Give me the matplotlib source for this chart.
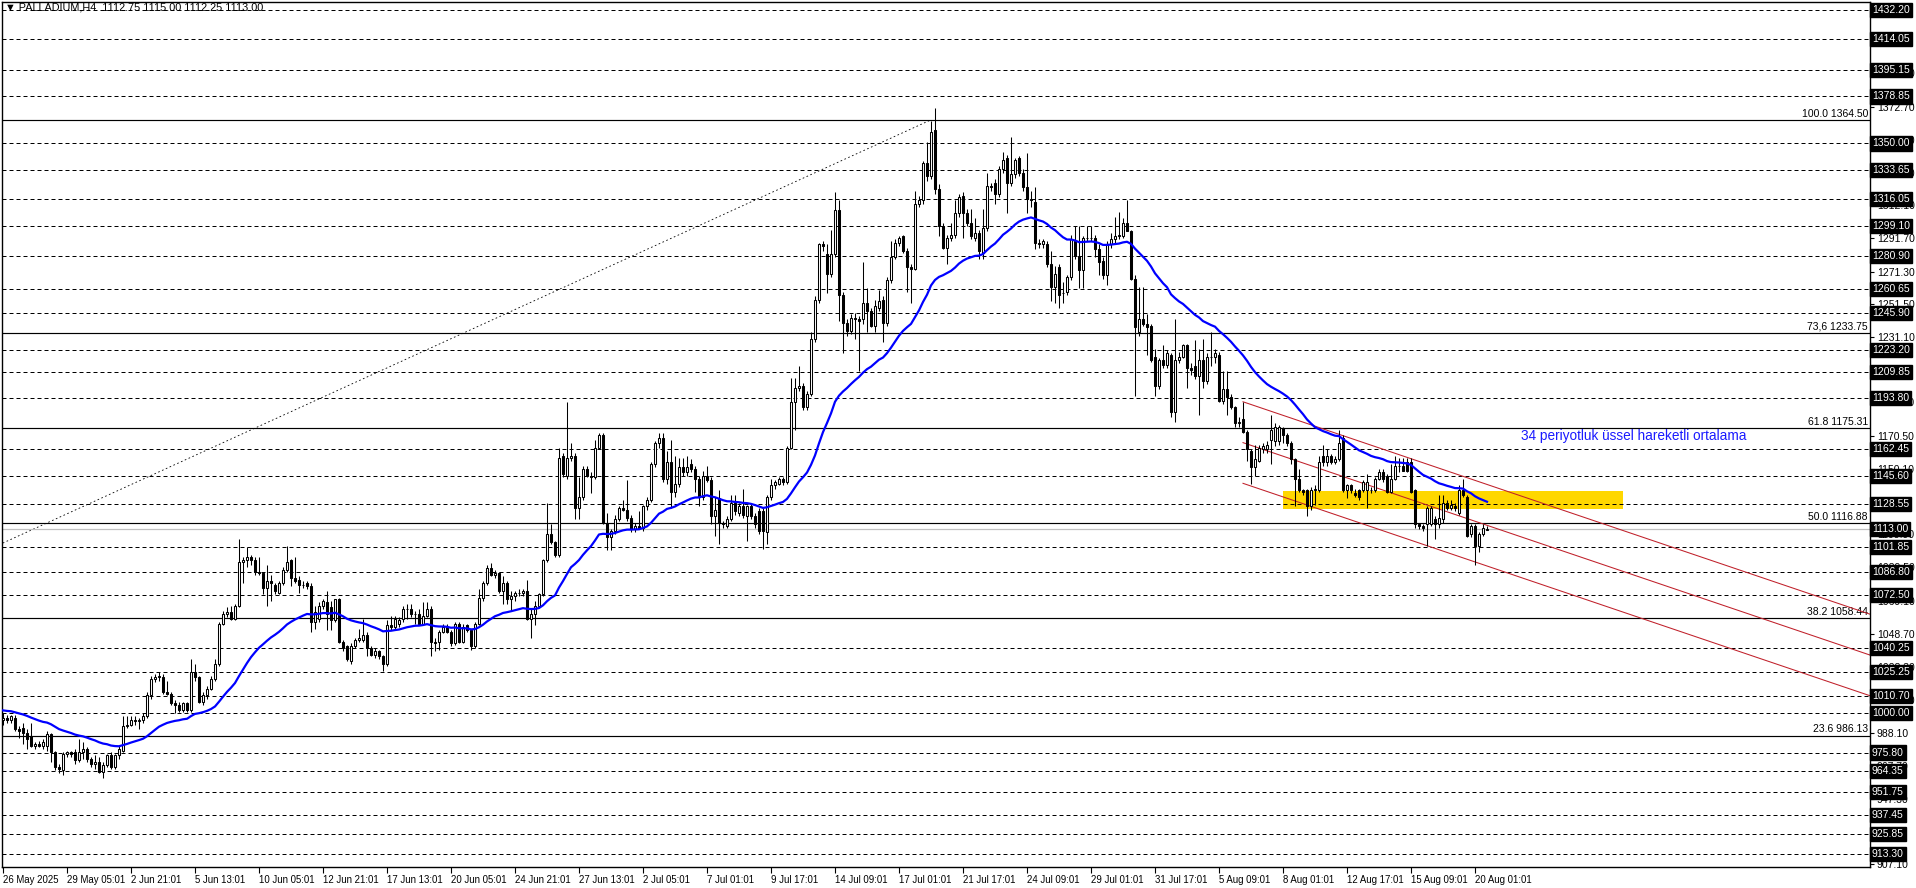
import numpy as np
import matplotlib
matplotlib.use("Agg")
import matplotlib.pyplot as plt

plt.rcParams['font.family'] = ['Liberation Sans', 'DejaVu Sans']

# H4 candles (bar 0 = 26 May 13:01)
opens = [996, 997, 996, 997, 990, 991, 988, 986, 980, 981, 980, 980, 987, 976, 967, 965, 975, 976, 976, 971,
         976, 978, 972, 969, 970, 964, 968, 974, 967, 974, 977, 992, 993, 996, 995, 996, 998, 1011, 1021, 1022,
         1022, 1013, 1012, 1006, 1005, 1002, 1006, 1002, 1025, 1022, 1007, 1011, 1015, 1021, 1030, 1055, 1061, 1062, 1058, 1066,
         1093, 1094, 1096, 1094, 1087, 1086, 1077, 1081, 1079, 1074, 1080, 1088, 1094, 1083, 1082, 1079, 1080, 1078, 1056, 1058,
         1066, 1068, 1065, 1057, 1070, 1044, 1041, 1032, 1041, 1045, 1045, 1048, 1040, 1036, 1038, 1035, 1030, 1054, 1053, 1055,
         1058, 1064, 1064, 1061, 1061, 1055, 1060, 1064, 1044, 1044, 1050, 1053, 1050, 1043, 1055, 1044, 1054, 1051, 1041, 1055,
         1071, 1080, 1089, 1085, 1086, 1075, 1080, 1070, 1072, 1074, 1074, 1075, 1058, 1061, 1066, 1073, 1094, 1110, 1105, 1097,
         1158, 1146, 1157, 1158, 1126, 1133, 1150, 1146, 1145, 1163, 1171, 1117, 1108, 1112, 1119, 1126, 1125, 1120, 1113, 1115,
         1114, 1127, 1131, 1153, 1166, 1169, 1144, 1154, 1136, 1141, 1151, 1148, 1153, 1150, 1144, 1133, 1146, 1143, 1121, 1132,
         1117, 1115, 1119, 1129, 1123, 1127, 1121, 1127, 1121, 1124, 1124, 1111, 1133, 1140, 1141, 1144, 1142, 1163, 1191, 1200,
         1201, 1188, 1196, 1230, 1254, 1288, 1282, 1270, 1282, 1309, 1257, 1240, 1235, 1243, 1242, 1242, 1252, 1247, 1238, 1249,
         1254, 1240, 1266, 1280, 1289, 1293, 1284, 1274, 1273, 1313, 1315, 1338, 1330, 1358, 1322, 1299, 1286, 1292, 1294, 1307,
         1318, 1307, 1301, 1292, 1295, 1283, 1298, 1324, 1326, 1319, 1334, 1341, 1326, 1331, 1341, 1332, 1323, 1316, 1314, 1289,
         1288, 1288, 1276, 1262, 1274, 1258, 1259, 1268, 1290, 1281, 1272, 1292, 1292, 1292, 1285, 1278, 1269, 1288, 1291, 1293,
         1293, 1301, 1296, 1267, 1234, 1242, 1239, 1238, 1219, 1201, 1217, 1214, 1220, 1185, 1217, 1219, 1226, 1212, 1213, 1207,
         1217, 1204, 1219, 1219, 1220, 1192, 1199, 1194, 1188, 1178, 1181, 1173, 1161, 1151, 1155, 1162, 1162, 1168, 1167, 1167,
         1175, 1171, 1166, 1156, 1144, 1137, 1137, 1127, 1137, 1137, 1158, 1154, 1158, 1154, 1156, 1169, 1137, 1140, 1135, 1137,
         1137, 1137, 1137, 1137, 1144, 1148, 1146, 1136, 1144, 1152, 1152, 1154, 1154, 1137, 1116, 1115, 1116, 1116, 1119, 1116,
         1119, 1129, 1126, 1127, 1123, 1137, 1133, 1110, 1115, 1103, 1110, 1112.75]
highs = [1000, 999, 999, 999, 992, 994, 990, 994, 982, 983, 984, 989, 988, 977, 969, 976, 977, 977, 978, 984,
         982, 979, 973, 974, 973, 970, 975, 976, 975, 980, 998, 998, 998, 998, 997, 1000, 1013, 1023, 1024, 1025,
         1024, 1020, 1013, 1008, 1007, 1007, 1007, 1033, 1030, 1023, 1013, 1017, 1023, 1033, 1056, 1063, 1065, 1066, 1067, 1107,
         1096, 1102, 1097, 1096, 1096, 1087, 1091, 1085, 1080, 1081, 1090, 1103, 1095, 1096, 1084, 1081, 1081, 1080, 1066, 1068,
         1070, 1075, 1069, 1070, 1071, 1045, 1042, 1043, 1046, 1052, 1058, 1050, 1041, 1040, 1039, 1036, 1057, 1060, 1060, 1059,
         1066, 1067, 1067, 1063, 1064, 1068, 1068, 1066, 1046, 1051, 1055, 1055, 1051, 1056, 1056, 1055, 1055, 1052, 1056, 1076,
         1081, 1091, 1092, 1088, 1087, 1084, 1081, 1075, 1075, 1076, 1076, 1082, 1064, 1069, 1074, 1095, 1129, 1116, 1106, 1163,
         1160, 1191, 1166, 1160, 1145, 1152, 1152, 1148, 1168, 1172, 1172, 1123, 1113, 1122, 1127, 1131, 1143, 1122, 1117, 1124,
         1128, 1133, 1154, 1167, 1172, 1172, 1161, 1168, 1158, 1157, 1157, 1158, 1156, 1152, 1146, 1149, 1152, 1145, 1133, 1137,
         1118, 1121, 1134, 1134, 1129, 1138, 1128, 1129, 1123, 1126, 1126, 1134, 1144, 1143, 1145, 1145, 1164, 1206, 1206, 1213,
         1203, 1198, 1234, 1256, 1289, 1290, 1288, 1297, 1320, 1315, 1259, 1242, 1245, 1246, 1244, 1277, 1261, 1249, 1254, 1260,
         1256, 1268, 1290, 1291, 1293, 1294, 1286, 1276, 1321, 1318, 1339, 1351, 1364, 1372, 1325, 1301, 1294, 1301, 1315, 1319,
         1320, 1310, 1310, 1304, 1297, 1310, 1332, 1326, 1328, 1336, 1345, 1343, 1354, 1341, 1342, 1334, 1344, 1321, 1323, 1291,
         1291, 1290, 1284, 1275, 1276, 1265, 1269, 1294, 1299, 1299, 1293, 1299, 1299, 1294, 1288, 1280, 1290, 1295, 1305, 1308,
         1304, 1315, 1297, 1269, 1262, 1262, 1245, 1239, 1224, 1218, 1226, 1223, 1221, 1242, 1222, 1227, 1227, 1215, 1229, 1224,
         1230, 1221, 1234, 1224, 1222, 1210, 1210, 1196, 1189, 1182, 1191, 1174, 1162, 1165, 1165, 1166, 1167, 1183, 1178, 1177,
         1176, 1172, 1167, 1157, 1150, 1138, 1138, 1139, 1140, 1158, 1165, 1162, 1159, 1158, 1174, 1171, 1141, 1141, 1138, 1138,
         1143, 1147, 1139, 1145, 1150, 1150, 1147, 1153, 1158, 1157, 1157, 1157, 1157, 1138, 1117, 1116, 1127, 1127, 1121, 1134,
         1134, 1131, 1131, 1129, 1140, 1144, 1134, 1116, 1116, 1111, 1116, 1115]
lows = [993, 994, 994, 989, 985, 981, 978, 979, 978, 979, 978, 977, 970, 965, 963, 962, 973, 973, 969, 970,
        972, 970, 967, 966, 963, 960, 967, 966, 966, 972, 976, 991, 992, 993, 990, 994, 997, 1009, 1019, 1020,
        1012, 1011, 1005, 1000, 1001, 1001, 1001, 1001, 1020, 1006, 1005, 1009, 1014, 1020, 1029, 1054, 1059, 1057, 1057, 1065,
        1080, 1090, 1091, 1085, 1085, 1073, 1066, 1069, 1073, 1073, 1079, 1087, 1078, 1080, 1074, 1077, 1076, 1050, 1052, 1056,
        1064, 1051, 1051, 1056, 1043, 1038, 1032, 1030, 1040, 1044, 1044, 1035, 1035, 1034, 1033, 1026, 1029, 1051, 1051, 1053,
        1056, 1058, 1059, 1055, 1054, 1054, 1059, 1035, 1038, 1039, 1049, 1049, 1041, 1042, 1043, 1043, 1050, 1039, 1040, 1054,
        1069, 1079, 1084, 1083, 1074, 1067, 1067, 1063, 1069, 1072, 1072, 1057, 1046, 1054, 1065, 1072, 1093, 1104, 1096, 1096,
        1145, 1144, 1155, 1119, 1119, 1131, 1145, 1135, 1144, 1162, 1116, 1100, 1100, 1110, 1118, 1124, 1118, 1111, 1111, 1113,
        1112, 1125, 1130, 1151, 1163, 1142, 1141, 1126, 1133, 1139, 1146, 1146, 1148, 1136, 1127, 1131, 1142, 1116, 1109, 1104,
        1114, 1114, 1118, 1122, 1121, 1120, 1106, 1119, 1114, 1110, 1101, 1104, 1131, 1138, 1140, 1140, 1141, 1162, 1174, 1198,
        1186, 1186, 1195, 1228, 1252, 1284, 1258, 1268, 1280, 1241, 1221, 1232, 1233, 1230, 1210, 1239, 1234, 1237, 1234, 1247,
        1228, 1238, 1264, 1279, 1287, 1283, 1259, 1252, 1272, 1311, 1313, 1327, 1328, 1319, 1293, 1285, 1276, 1290, 1292, 1305,
        1292, 1299, 1291, 1290, 1279, 1279, 1296, 1321, 1313, 1317, 1332, 1307, 1324, 1329, 1330, 1321, 1307, 1311, 1285, 1286,
        1286, 1274, 1253, 1252, 1249, 1252, 1257, 1266, 1279, 1261, 1261, 1290, 1290, 1280, 1269, 1267, 1263, 1286, 1289, 1291,
        1292, 1296, 1266, 1195, 1232, 1238, 1220, 1216, 1195, 1199, 1212, 1212, 1182, 1179, 1215, 1218, 1200, 1208, 1205, 1183,
        1200, 1202, 1213, 1215, 1191, 1190, 1183, 1187, 1176, 1176, 1172, 1155, 1141, 1146, 1154, 1160, 1160, 1153, 1164, 1165,
        1166, 1164, 1153, 1127, 1136, 1134, 1121, 1125, 1128, 1136, 1152, 1152, 1153, 1153, 1155, 1136, 1132, 1135, 1133, 1131,
        1136, 1126, 1135, 1136, 1143, 1142, 1135, 1135, 1143, 1148, 1149, 1148, 1135, 1114, 1113, 1112, 1103, 1115, 1107, 1114,
        1117, 1125, 1125, 1124, 1122, 1133, 1108, 1108, 1091, 1099, 1109, 1112.25]
closes = [997, 996, 998, 990, 989, 988, 984, 980, 981, 980, 982, 987, 976, 967, 966, 975, 976, 975, 971, 976,
          978, 972, 969, 970, 964, 968, 974, 967, 974, 978, 992, 993, 996, 995, 996, 998, 1011, 1021, 1022, 1023,
          1013, 1012, 1006, 1005, 1002, 1006, 1002, 1025, 1022, 1007, 1011, 1015, 1021, 1030, 1055, 1061, 1062, 1058, 1066, 1093,
          1094, 1096, 1094, 1087, 1086, 1077, 1081, 1080, 1075, 1080, 1088, 1093, 1083, 1081, 1079, 1079, 1078, 1056, 1062, 1066,
          1069, 1061, 1057, 1070, 1044, 1040, 1033, 1041, 1045, 1046, 1048, 1040, 1036, 1038, 1035, 1030, 1054, 1053, 1058, 1057,
          1064, 1064, 1061, 1061, 1055, 1060, 1064, 1044, 1043, 1050, 1053, 1050, 1043, 1055, 1044, 1053, 1051, 1041, 1055, 1071,
          1080, 1089, 1085, 1086, 1075, 1080, 1070, 1072, 1074, 1074, 1075, 1058, 1061, 1066, 1073, 1094, 1110, 1105, 1097, 1157,
          1147, 1157, 1158, 1126, 1133, 1150, 1146, 1145, 1163, 1171, 1117, 1108, 1112, 1119, 1126, 1125, 1120, 1113, 1115, 1114,
          1127, 1131, 1153, 1166, 1169, 1144, 1154, 1136, 1141, 1151, 1148, 1151, 1150, 1144, 1133, 1146, 1143, 1121, 1125, 1117,
          1116, 1119, 1129, 1124, 1127, 1122, 1127, 1121, 1116, 1112, 1112, 1133, 1140, 1142, 1144, 1142, 1163, 1191, 1200, 1201,
          1188, 1196, 1230, 1254, 1288, 1287, 1270, 1282, 1309, 1257, 1240, 1235, 1243, 1242, 1241, 1252, 1247, 1238, 1250, 1253,
          1240, 1266, 1280, 1289, 1292, 1284, 1274, 1273, 1313, 1315, 1338, 1330, 1357, 1322, 1299, 1286, 1292, 1294, 1307, 1317,
          1307, 1301, 1293, 1295, 1284, 1298, 1324, 1323, 1319, 1334, 1340, 1326, 1331, 1340, 1332, 1323, 1316, 1315, 1289, 1288,
          1290, 1276, 1262, 1270, 1257, 1258, 1268, 1291, 1281, 1272, 1292, 1292, 1292, 1285, 1277, 1269, 1288, 1291, 1293, 1294,
          1301, 1296, 1267, 1237, 1242, 1239, 1237, 1217, 1201, 1217, 1214, 1221, 1185, 1217, 1219, 1226, 1212, 1211, 1207, 1217,
          1204, 1219, 1219, 1221, 1192, 1199, 1194, 1188, 1178, 1179, 1173, 1162, 1151, 1156, 1163, 1164, 1165, 1174, 1176, 1176,
          1171, 1166, 1156, 1144, 1137, 1136, 1127, 1137, 1138, 1154, 1154, 1158, 1154, 1156, 1166, 1137, 1140, 1137, 1134, 1133,
          1142, 1142, 1137, 1144, 1148, 1144, 1136, 1144, 1152, 1152, 1149, 1149, 1136, 1116, 1115, 1114, 1126, 1126, 1116, 1120,
          1129, 1126, 1128, 1126, 1137, 1134, 1109, 1115, 1103, 1110, 1114, 1113]

date_labels = ["26 May 2025", "29 May 05:01", "2 Jun 21:01", "5 Jun 13:01", "10 Jun 05:01", "12 Jun 21:01",
               "17 Jun 13:01", "20 Jun 05:01", "24 Jun 21:01", "27 Jun 13:01", "2 Jul 05:01", "7 Jul 01:01",
               "9 Jul 17:01", "14 Jul 09:01", "17 Jul 01:01", "21 Jul 17:01", "24 Jul 09:01", "29 Jul 01:01",
               "31 Jul 17:01", "5 Aug 09:01", "8 Aug 01:01", "12 Aug 17:01", "15 Aug 09:01", "20 Aug 01:01"]
bars_per_label = 16

# horizontal dashed levels with black price tags
levels = [1432.20, 1414.05, 1395.15, 1378.85, 1350.00, 1333.65, 1316.05, 1299.10, 1280.90, 1260.65,
          1245.90, 1223.20, 1209.85, 1193.80, 1162.45, 1145.60, 1128.55, 1101.85, 1086.80, 1072.50,
          1040.25, 1025.25, 1010.70, 1000.00, 975.80, 964.35, 951.75, 937.45, 925.85, 913.30]
# price scale labels (the ones not fully hidden by the tags)
price_ticks = [1393.10, 1372.70, 1352.40, 1332.00, 1312.10, 1291.70, 1271.30, 1251.50, 1231.10,
               1190.90, 1170.50, 1150.10, 1109.90, 1089.50, 1069.10, 1048.70, 1028.30,
               1007.90, 988.10, 967.70, 947.30, 907.10]
fib_names = ["100.0", "73,6", "61.8", "50.0", "38.2", "23.6"]
fib_prices = [1364.50, 1233.75, 1175.31, 1116.88, 1058.44, 986.13]
fib_anchor_bars = [-210, 232]
fib_anchor_prices = [869.26, 1364.50]
last_price = 1113.00
ema_period = 34
ema_start = 1002.0

channel_bars = [310, 467]
channel_upper = [1191.3, 1060.6]
channel_mid = [1166.2, 1035.5]
channel_lower = [1141.2, 1010.5]

zone_bars = [320, 405]
zone_prices = [1125.4, 1136.5]

title = "\u25bc PALLADIUM,H4  1112.75 1115.00 1112.25 1113.00"
ema_note = "34 periyotluk üssel hareketli ortalama"

# ---- figure ----
W, H = 1916, 888
fig = plt.figure(figsize=(W / 100, H / 100), dpi=100)
ax = fig.add_axes([2 / W, (H - 867) / H, 1868 / W, 865 / H])
ax.set_xlim(-0.25, 466.75)
ax.set_ylim(905.5, 1436.9)
ax.set_facecolor('white')
for s in ax.spines.values():
    s.set_color('black')
    s.set_linewidth(1)

ytr = ax.get_yaxis_transform()
fs = 7.5

# dashed levels
for p in levels:
    ax.axhline(p, color='black', linewidth=0.72, dashes=(4, 3), zorder=1)
# fibonacci levels
for name, p in zip(fib_names, fib_prices):
    ax.axhline(p, color='black', linewidth=0.85, zorder=1)
    ax.text(1 - 2 / 1868, p + 0.8, f"{name} {p:.2f}", transform=ytr, ha='right', va='bottom',
            fontsize=fs, color='black', zorder=2)
ax.plot(fib_anchor_bars, fib_anchor_prices, color='black', linewidth=0.6, dashes=(2, 3), zorder=1)
ax.axhline(last_price, color='#c0c0c0', linewidth=0.9, zorder=1)

# yellow zone
ax.fill_between(zone_bars, zone_prices[0], zone_prices[1], color='#ffd700', linewidth=0, zorder=0.5)

# channel
for line in (channel_upper, channel_mid, channel_lower):
    ax.plot(channel_bars, line, color='#c0202a', linewidth=0.75, zorder=2)

# candles
x = np.arange(len(closes))
o = np.array(opens, dtype=float)
c = np.array(closes, dtype=float)
up = c >= o
ax.vlines(x, lows, highs, color='black', linewidth=0.75, zorder=3)
ax.bar(x[up], (c - o)[up], bottom=o[up], width=0.72, color='white', edgecolor='black',
       linewidth=0.75, zorder=4)
ax.bar(x[~up], (o - c)[~up], bottom=c[~up], width=0.72, color='black', edgecolor='black',
       linewidth=0.75, zorder=4)

# EMA 34
alpha = 2 / (ema_period + 1)
ema = []
prev = ema_start
for v in closes:
    prev = prev + alpha * (v - prev)
    ema.append(prev)
ax.plot(x, ema, color='#0000ff', linewidth=1.6, zorder=5)

ax.text(379.5, 1170.3, ema_note, color='#1a1aff', fontsize=9.8, ha='left', va='center', zorder=6)

# axes ticks
ax.yaxis.tick_right()
ax.set_yticks(price_ticks)
ax.set_yticklabels([f"{p:.2f}" for p in price_ticks])
ax.tick_params(axis='y', length=3, width=0.8, pad=2, labelsize=fs, colors='black')
tick_bars = [k * bars_per_label for k in range(len(date_labels))]
ax.set_xticks(tick_bars)
ax.set_xticklabels(date_labels, ha='left')
ax.tick_params(axis='x', length=4, width=0.8, pad=2, labelsize=6.9, colors='black')

# black price tags on the right
for p in levels + [last_price]:
    ax.text(1 + 2 / 1868, p, f"{p:.2f}", transform=ytr, ha='left', va='center', fontsize=fs,
            color='white', zorder=10, clip_on=False,
            bbox=dict(boxstyle='square,pad=0.2', fc='black', ec='black'))

fig.text(5 / W, 1 - 8 / H, title, fontsize=7.8, ha='left', va='center', color='black')

fig.savefig('out.png', dpi=100, facecolor='white')
